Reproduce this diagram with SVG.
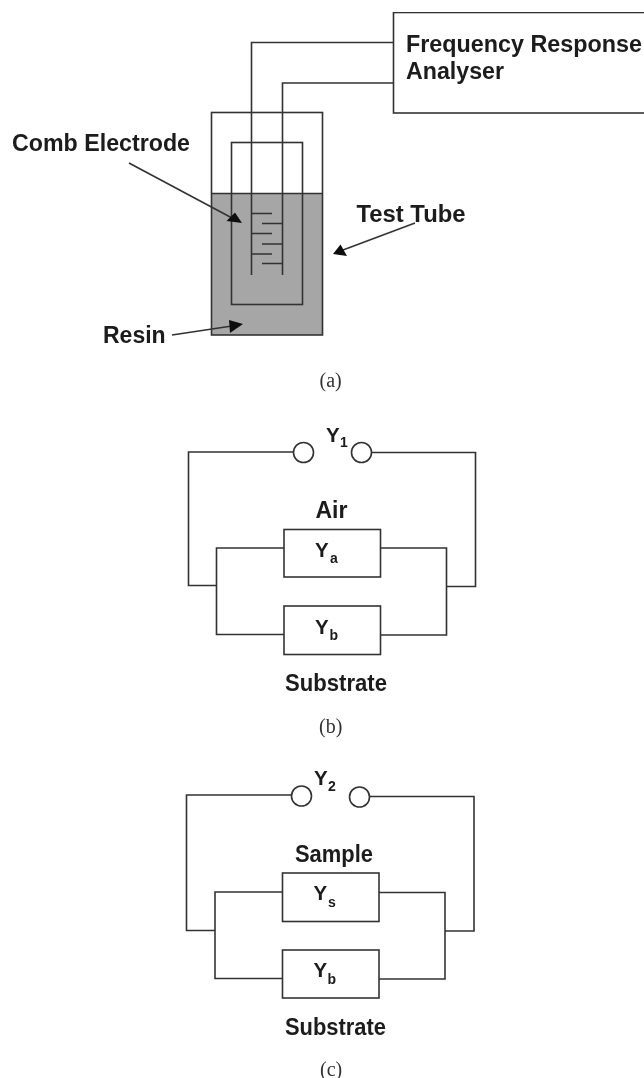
<svg xmlns="http://www.w3.org/2000/svg" width="644" height="1078" viewBox="0 0 644 1078">
<defs><filter id="soft" x="0" y="0" width="100%" height="100%"><feGaussianBlur stdDeviation="0.45"/></filter></defs>
<style>
.w{fill:none;stroke:#333;stroke-width:1.6}
.b{fill:#fff;stroke:#333;stroke-width:1.6}
.h{fill:#111;stroke:none}
text{font-family:"Liberation Sans",Arial,sans-serif;font-weight:bold;font-size:23px;fill:#1a1a1a}
.sub{font-size:14px}
.y{font-size:20.5px}
.cap{font-family:"Liberation Serif","Times New Roman",serif;font-weight:normal;font-size:20px;fill:#333}
</style>
<rect width="644" height="1078" fill="#fff"/>
<g filter="url(#soft)">
<g id="test-tube">
<rect x="211.5" y="193.5" width="111" height="141.5" fill="#a6a6a6"/>
<rect class="w" x="211.5" y="112.5" width="111" height="222.5"/>
<line class="w" x1="211.5" y1="193.5" x2="322.5" y2="193.5"/>
<rect class="w" x="231.5" y="142.5" width="71" height="162"/>
</g>
<g id="comb-electrode">
<path class="w" d="M252 213.5H272M252 233.5H272M252 254H272M262 223.5H282.5M262 244H282.5M262 263.5H282.5"/>
</g>
<g id="analyser">
<rect class="b" x="393.5" y="12.5" width="260" height="100.5"/>
<text x="406" y="52" textLength="236" lengthAdjust="spacingAndGlyphs">Frequency Response</text>
<text x="406" y="79" textLength="98" lengthAdjust="spacingAndGlyphs">Analyser</text>
</g>
<g id="connectors">
<path class="w" d="M393.5 42.5H251.5V275"/>
<path class="w" d="M393.5 83H282.5V275"/>
<path class="w" d="M129 163L232 218"/>
<polygon class="h" points="242,223 226.5,221 235,212.5"/>
<path class="w" d="M415 223L343 250"/>
<polygon class="h" points="333,254 340.5,244.5 347,256"/>
<path class="w" d="M172 335L232 326"/>
<polygon class="h" points="243,324 229,320 230,333"/>
<path class="w" d="M293 452H188.5V585.5H217"/>
<path class="w" d="M371.5 452.5H475.5V586.5H447"/>
<path class="w" d="M284 548H216.5V634.5H284"/>
<path class="w" d="M380.5 548H446.5V635H380.5"/>
<path class="w" d="M292 795H186.5V930.5H215"/>
<path class="w" d="M369.5 796.5H474V931H445"/>
<path class="w" d="M282.5 892H215V978.5H282.5"/>
<path class="w" d="M379 892.5H445V979H379"/>
</g>
<g id="labels-a">
<text x="12" y="151" textLength="178" lengthAdjust="spacingAndGlyphs">Comb Electrode</text>
<text x="356.5" y="222" textLength="109" lengthAdjust="spacingAndGlyphs">Test Tube</text>
<text x="103" y="343">Resin</text>
<text class="cap" x="319.5" y="387">(a)</text>
</g>
<g id="circuit-b">
<circle class="b" cx="303.5" cy="452.5" r="10"/>
<circle class="b" cx="361.5" cy="452.5" r="10"/>
<rect class="b" x="284" y="529.5" width="96.5" height="47.5"/>
<rect class="b" x="284" y="606" width="96.5" height="48.5"/>
<text class="y" x="326" y="441.5">Y<tspan class="sub" x="340" y="447">1</tspan></text>
<text x="315.5" y="518">Air</text>
<text class="y" x="315" y="556.5">Y<tspan class="sub" x="330" y="562.5">a</tspan></text>
<text class="y" x="315" y="634">Y<tspan class="sub" x="329.5" y="640">b</tspan></text>
<text x="285" y="690.5" textLength="102" lengthAdjust="spacingAndGlyphs">Substrate</text>
<text class="cap" x="319" y="733">(b)</text>
</g>
<g id="circuit-c">
<circle class="b" cx="301.5" cy="796" r="10"/>
<circle class="b" cx="359.5" cy="797" r="10"/>
<rect class="b" x="282.5" y="873" width="96.5" height="48.5"/>
<rect class="b" x="282.5" y="950" width="96.5" height="48"/>
<text class="y" x="314" y="785">Y<tspan class="sub" x="328" y="791">2</tspan></text>
<text x="295" y="862" textLength="78" lengthAdjust="spacingAndGlyphs">Sample</text>
<text class="y" x="313.5" y="900">Y<tspan class="sub" x="328" y="907">s</tspan></text>
<text class="y" x="313.5" y="977">Y<tspan class="sub" x="327.5" y="984">b</tspan></text>
<text x="285" y="1035" textLength="101" lengthAdjust="spacingAndGlyphs">Substrate</text>
<text class="cap" x="320" y="1075.5">(c)</text>
</g>
</g>
</svg>
